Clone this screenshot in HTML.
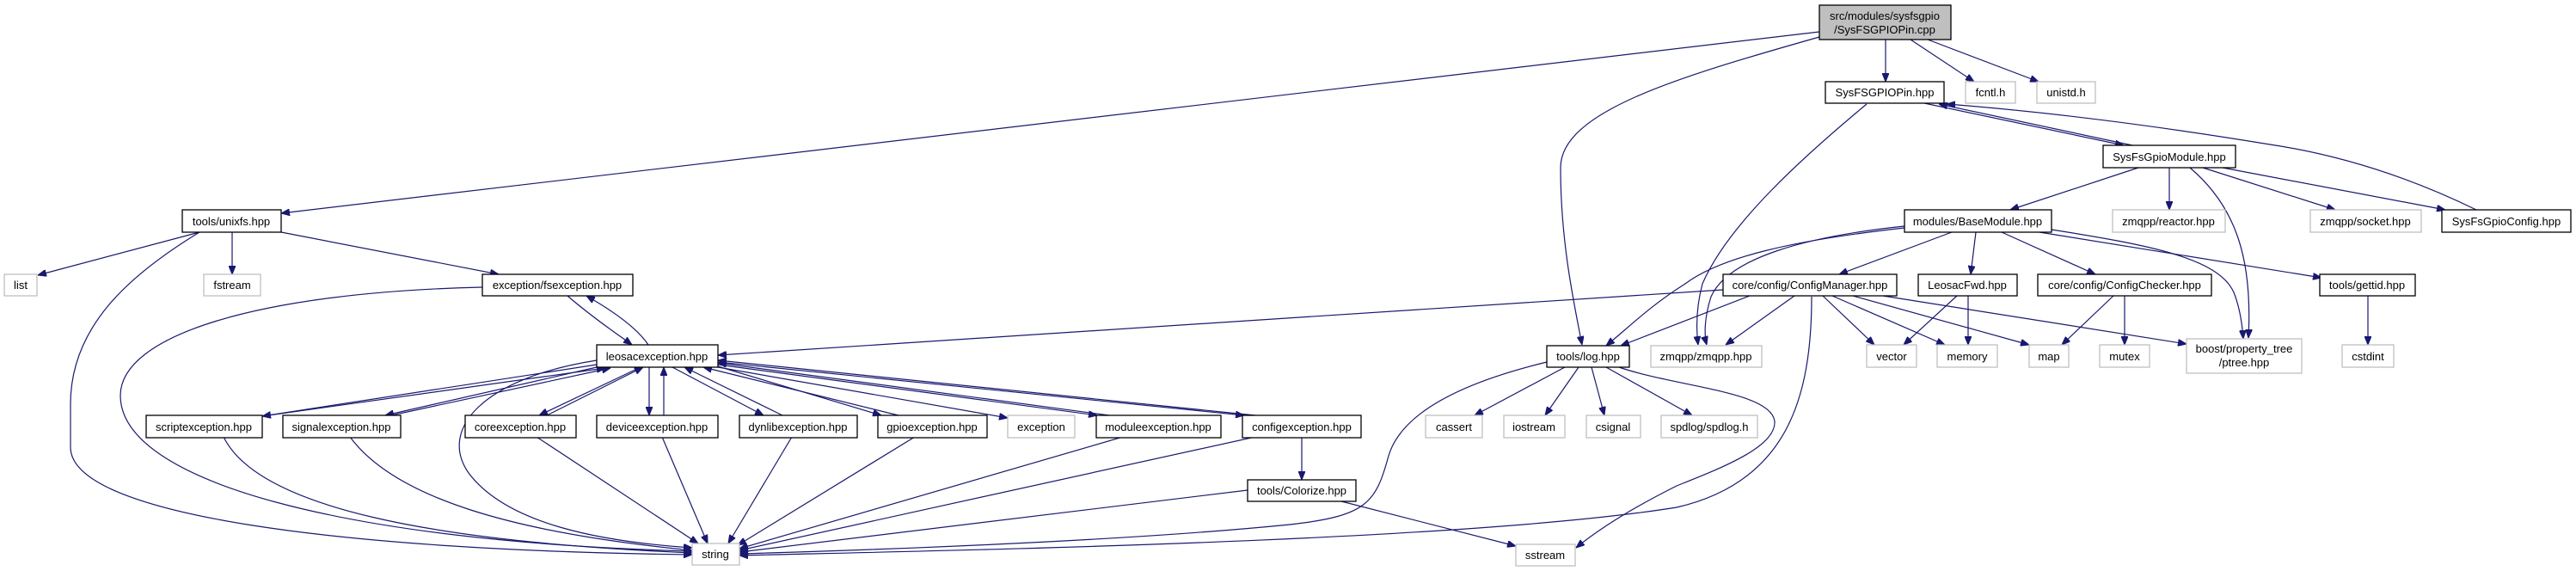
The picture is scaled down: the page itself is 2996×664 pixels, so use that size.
<!DOCTYPE html>
<html><head><meta charset="utf-8"><style>
html,body{margin:0;padding:0;background:#fff;}
svg{display:block;}
text{font-family:"Liberation Sans",sans-serif;font-size:13px;fill:#000;text-anchor:middle;}
.n{fill:#fff;stroke:#000;stroke-width:1.3;}
.g{fill:#fff;stroke:#bfbfbf;stroke-width:1.3;}
.e{fill:none;stroke:#191970;stroke-width:1.2;}
</style></head><body>
<svg width="2996" height="664" viewBox="0 0 2996 664" xmlns="http://www.w3.org/2000/svg">
<defs>
<marker id="a" viewBox="0 0 10 8" refX="10" refY="4" markerWidth="10" markerHeight="8" markerUnits="userSpaceOnUse" orient="auto">
<path d="M0,0 L10,4 L0,8 z" fill="#191970" stroke="#191970"/>
</marker>
</defs>
<g class="e" marker-end="url(#a)">
<!-- cpp edges -->
<path d="M2193,46 L2193,95"/>
<path d="M2222,46 L2296,95"/>
<path d="M2242,46 L2371,95"/>
<path d="M2116,37 L327,248"/>
<path d="M2116,43 C1950,90 1815,130 1815,195 C1815,280 1830,350 1840,401"/>
<!-- SysFSGPIOPin -->
<path d="M2238,120 L2470,169"/>
<path d="M2480,169 L2255,121"/>
<path d="M2880,244 C2800,205 2720,180 2640,168 C2500,145 2380,130 2264,121"/>
<path d="M2171,121 C2100,180 2010,260 1980,330 C1972,360 1973,385 1975,401"/>
<!-- SysFsGpioModule -->
<path d="M2487,195 L2338,244"/>
<path d="M2523,195 L2523,244"/>
<path d="M2562,195 L2716,244"/>
<path d="M2585,195 L2844,244"/>
<path d="M2547,195 C2600,240 2620,300 2615,393"/>
<!-- BaseModule -->
<path d="M2270,270 L2139,319"/>
<path d="M2298,270 L2292,319"/>
<path d="M2328,270 L2437,319"/>
<path d="M2372,270 L2700,323"/>
<path d="M2386,267 C2500,285 2580,300 2598,340 C2606,360 2608,380 2609,394"/>
<path d="M2215,265 C2080,280 2000,300 1960,330 C1920,355 1895,380 1868,402"/>
<path d="M2215,263 C2100,275 2010,300 1990,345 C1982,370 1982,390 1985,401"/>
<!-- ConfigManager -->
<path d="M2004,337 L835,413"/>
<path d="M2035,344 L1885,402"/>
<path d="M2087,344 L2007,401"/>
<path d="M2120,344 L2180,401"/>
<path d="M2131,344 L2262,401"/>
<path d="M2155,344 L2360,401"/>
<path d="M2190,344 L2543,400"/>
<path d="M2107,345 C2107,460 2080,560 1950,590 C1700,630 1100,640 860,646"/>
<path d="M2276,344 L2214,401"/>
<path d="M2289,344 L2289,401"/>
<path d="M2458,344 L2398,401"/>
<path d="M2471,344 L2471,401"/>
<path d="M2754,344 L2754,401"/>
<!-- log.hpp -->
<path d="M1820,427 L1715,483"/>
<path d="M1836,427 L1797,483"/>
<path d="M1851,427 L1866,483"/>
<path d="M1868,427 L1968,483"/>
<path d="M1883,427 C1950,450 2060,455 2064,490 C2066,520 2000,545 1950,565 C1900,590 1860,615 1833,637"/>
<path d="M1799,421 C1700,445 1630,480 1615,530 C1600,585 1590,600 1500,610 C1300,630 1000,640 860,644"/>
<!-- Colorize / exceptions -->
<path d="M1451,570 L860,642"/>
<path d="M1560,583 L1763,635"/>
<path d="M1514,508 L1514,558"/>
<path d="M1460,508 L860,640"/>
<path d="M1306,508 L860,638"/>
<path d="M1064,508 L858,634"/>
<path d="M921,508 L847,632"/>
<path d="M770,508 L823,632"/>
<path d="M624,508 L812,632"/>
<path d="M407,508 C460,580 600,620 805,640"/>
<path d="M260,508 C300,590 500,630 805,643"/>
<path d="M694,419 C560,440 510,500 545,550 C590,610 700,630 805,637"/>
<!-- leosac <-> exceptions -->
<path d="M694,424 L305,484"/>
<path d="M312,483 L704,428"/>
<path d="M694,427 L448,483"/>
<path d="M455,483 L710,428"/>
<path d="M745,427 L627,483"/>
<path d="M636,483 L748,427"/>
<path d="M755,427 L755,483"/>
<path d="M772,483 L772,427"/>
<path d="M782,427 L888,483"/>
<path d="M910,483 L796,427"/>
<path d="M835,426 L1025,483"/>
<path d="M1045,483 L818,427"/>
<path d="M835,427 L1172,486"/>
<path d="M835,424 L1276,483"/>
<path d="M1290,483 L835,422"/>
<path d="M835,421 L1447,483"/>
<path d="M1460,483 L835,419"/>
<!-- unixfs -->
<path d="M232,270 L44,320"/>
<path d="M270,270 L270,319"/>
<path d="M327,270 L580,319"/>
<path d="M232,270 C150,320 82,380 82,470 L82,520 C82,600 400,640 805,645"/>
<path d="M561,334 C300,340 140,390 140,460 C140,560 400,630 805,641"/>
<path d="M660,344 C690,370 720,390 735,401"/>
<path d="M754,401 C740,380 710,360 682,344"/>
</g>
<!-- nodes -->
<rect x="2116" y="6" width="153" height="40" fill="#bfbfbf" stroke="#000" stroke-width="1.3"/>
<text x="2192" y="23">src/modules/sysfsgpio</text><text x="2192" y="39">/SysFSGPIOPin.cpp</text>
<rect class="n" x="2123" y="95" width="138" height="25"/><text x="2192" y="112">SysFSGPIOPin.hpp</text>
<rect class="g" x="2286" y="95" width="58" height="25"/><text x="2315" y="112">fcntl.h</text>
<rect class="g" x="2369" y="95" width="68" height="25"/><text x="2403" y="112">unistd.h</text>
<rect class="n" x="2446" y="169" width="154" height="26"/><text x="2523" y="187">SysFsGpioModule.hpp</text>
<rect class="n" x="2215" y="244" width="171" height="26"/><text x="2300" y="262">modules/BaseModule.hpp</text>
<rect class="g" x="2457" y="244" width="131" height="26"/><text x="2522" y="262">zmqpp/reactor.hpp</text>
<rect class="g" x="2687" y="244" width="129" height="26"/><text x="2751" y="262">zmqpp/socket.hpp</text>
<rect class="n" x="2840" y="244" width="150" height="26"/><text x="2915" y="262">SysFsGpioConfig.hpp</text>
<rect class="n" x="2004" y="319" width="202" height="25"/><text x="2105" y="336">core/config/ConfigManager.hpp</text>
<rect class="n" x="2231" y="319" width="115" height="25"/><text x="2288" y="336">LeosacFwd.hpp</text>
<rect class="n" x="2370" y="319" width="202" height="25"/><text x="2471" y="336">core/config/ConfigChecker.hpp</text>
<rect class="n" x="2698" y="319" width="111" height="25"/><text x="2753" y="336">tools/gettid.hpp</text>
<rect class="n" x="212" y="244" width="115" height="26"/><text x="269" y="262">tools/unixfs.hpp</text>
<rect class="g" x="5" y="319" width="38" height="25"/><text x="24" y="336">list</text>
<rect class="g" x="237" y="319" width="66" height="25"/><text x="270" y="336">fstream</text>
<rect class="n" x="561" y="319" width="175" height="25"/><text x="648" y="336">exception/fsexception.hpp</text>
<rect class="n" x="694" y="401" width="141" height="26"/><text x="764" y="419">leosacexception.hpp</text>
<rect class="n" x="1799" y="402" width="96" height="25"/><text x="1847" y="419">tools/log.hpp</text>
<rect class="g" x="1920" y="402" width="129" height="25"/><text x="1984" y="419">zmqpp/zmqpp.hpp</text>
<rect class="g" x="2171" y="401" width="58" height="26"/><text x="2200" y="419">vector</text>
<rect class="g" x="2253" y="401" width="70" height="26"/><text x="2288" y="419">memory</text>
<rect class="g" x="2360" y="401" width="46" height="26"/><text x="2383" y="419">map</text>
<rect class="g" x="2442" y="401" width="58" height="26"/><text x="2471" y="419">mutex</text>
<rect class="g" x="2543" y="394" width="134" height="40"/><text x="2610" y="410">boost/property_tree</text><text x="2610" y="426">/ptree.hpp</text>
<rect class="g" x="2724" y="401" width="60" height="26"/><text x="2754" y="419">cstdint</text>
<rect class="n" x="170" y="483" width="135" height="26"/><text x="237" y="501">scriptexception.hpp</text>
<rect class="n" x="329" y="483" width="137" height="26"/><text x="397" y="501">signalexception.hpp</text>
<rect class="n" x="541" y="483" width="129" height="26"/><text x="605" y="501">coreexception.hpp</text>
<rect class="n" x="694" y="483" width="141" height="26"/><text x="764" y="501">deviceexception.hpp</text>
<rect class="n" x="860" y="483" width="137" height="26"/><text x="928" y="501">dynlibexception.hpp</text>
<rect class="n" x="1021" y="483" width="127" height="26"/><text x="1084" y="501">gpioexception.hpp</text>
<rect class="g" x="1172" y="483" width="78" height="26"/><text x="1211" y="501">exception</text>
<rect class="n" x="1275" y="483" width="145" height="26"/><text x="1347" y="501">moduleexception.hpp</text>
<rect class="n" x="1445" y="483" width="138" height="26"/><text x="1514" y="501">configexception.hpp</text>
<rect class="g" x="1658" y="483" width="66" height="26"/><text x="1691" y="501">cassert</text>
<rect class="g" x="1749" y="483" width="71" height="26"/><text x="1784" y="501">iostream</text>
<rect class="g" x="1845" y="483" width="63" height="26"/><text x="1876" y="501">csignal</text>
<rect class="g" x="1932" y="483" width="112" height="26"/><text x="1988" y="501">spdlog/spdlog.h</text>
<rect class="n" x="1451" y="558" width="126" height="25"/><text x="1514" y="575">tools/Colorize.hpp</text>
<rect class="g" x="805" y="632" width="55" height="25"/><text x="832" y="649">string</text>
<rect class="g" x="1763" y="633" width="69" height="25"/><text x="1797" y="650">sstream</text>
</svg>
</body></html>
